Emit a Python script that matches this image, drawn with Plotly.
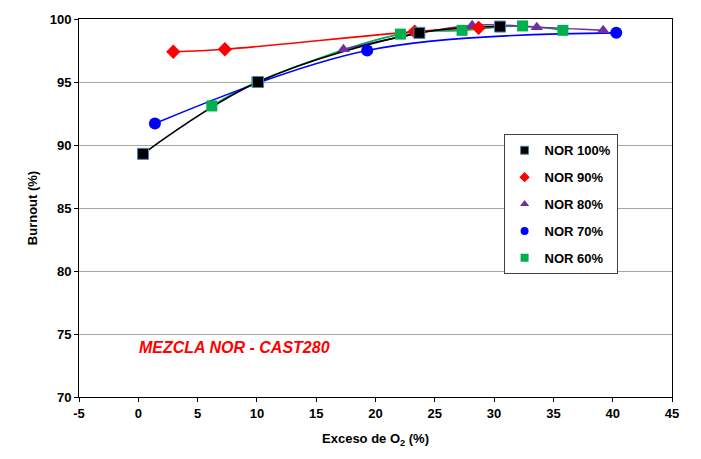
import plotly.graph_objects as go

# Data
nor100_x = [0.4, 10.1, 23.7, 30.5]
nor100_y = [89.3, 95.0, 98.9, 99.4]

nor90_x = [2.95, 7.3, 23.3, 28.7]
nor90_y = [97.4, 97.6, 99.0, 99.3]

nor80_x = [17.3, 28.15, 33.6, 39.2]
nor80_y = [97.6, 99.5, 99.35, 99.1]

nor70_x = [1.4, 19.3, 40.3]
nor70_y = [91.7, 97.5, 98.9]

nor60_x = [6.2, 10.0, 22.1, 27.3, 32.4, 35.8]
nor60_y = [93.1, 95.0, 98.8, 99.1, 99.45, 99.1]

x_tick_vals = [-5, 0, 5, 10, 15, 20, 25, 30, 35, 40, 45]
x_tick_text = ["-5", "0", "5", "10", "15", "20", "25", "30", "35", "40", "45"]

series = [
    # name, x, y, color, symbol, size  (drawing order, bottom to top)
    ("NOR 60%", nor60_x, nor60_y, "#00B050", "square", 11),
    ("NOR 70%", nor70_x, nor70_y, "#0000FF", "circle", 12),
    ("NOR 80%", nor80_x, nor80_y, "#7030A0", "triangle-up", 11),
    ("NOR 90%", nor90_x, nor90_y, "#FF0000", "diamond", 11),
    ("NOR 100%", nor100_x, nor100_y, "#000000", "square", 11),
]

fig = go.Figure()

for name, xs, ys, col, sym, sz in series:
    fig.add_trace(go.Scatter(
        x=xs, y=ys, mode="lines", showlegend=False, hoverinfo="skip",
        line=dict(color=col, width=1.6, shape="spline", smoothing=1.0),
    ))

for name, xs, ys, col, sym, sz in series:
    edge = "#4F81BD" if name == "NOR 100%" else col
    fig.add_trace(go.Scatter(
        x=xs, y=ys, mode="markers", name=name, showlegend=False,
        marker=dict(color=col, symbol=sym, size=sz,
                    line=dict(color=edge, width=1 if name == "NOR 100%" else 0)),
    ))

# legend entries (smaller symbols, as in the reference legend), listed 100% -> 60%
for name, xs, ys, col, sym, sz in reversed(series):
    edge = "#4F81BD" if name == "NOR 100%" else col
    fig.add_trace(go.Scatter(
        x=[None], y=[None], mode="markers", name=name, legendgroup=name,
        marker=dict(color=col, symbol=sym, size=8,
                    line=dict(color=edge, width=1 if name == "NOR 100%" else 0)),
    ))

fig.add_annotation(
    x=0.098, y=0.132, xref="paper", yref="paper", xanchor="left", yanchor="middle",
    text="<b><i>MEZCLA NOR - CAST280</i></b>", showarrow=False,
    font=dict(family="Liberation Sans, Arial, sans-serif", size=16, color="#FF0000"),
)

axis_font = dict(family="Liberation Sans, Arial, sans-serif", size=13, color="#000000", weight="bold")

fig.update_layout(
    width=701, height=459,
    margin=dict(l=79, r=29, t=14, b=62),
    paper_bgcolor="#FFFFFF", plot_bgcolor="#FFFFFF",
    font=dict(family="Liberation Sans, Arial, sans-serif", color="#000000"),
    legend=dict(
        x=0.716, y=0.695, xanchor="left", yanchor="top",
        bgcolor="#FFFFFF", bordercolor="#404040", borderwidth=1,
        traceorder="grouped", tracegroupgap=7,
        font=dict(family="Liberation Sans, Arial, sans-serif", size=13, weight="bold"),
        itemwidth=30,
    ),
    xaxis=dict(
        range=[-5, 45], tickmode="array", tickvals=x_tick_vals, ticktext=x_tick_text,
        showgrid=False, zeroline=False,
        showline=True, linecolor="#000000", linewidth=1, mirror=True,
        ticks="outside", ticklen=4, tickcolor="#000000",
        tickfont=axis_font,
        title=dict(text="Exceso de O<sub>2</sub> (%)", font=axis_font, standoff=14),
    ),
    yaxis=dict(
        range=[70, 100], dtick=5, showgrid=True, gridcolor="#A6A6A6", gridwidth=1,
        zeroline=False, showline=True, linecolor="#000000", linewidth=1, mirror=True,
        ticks="outside", ticklen=4, tickcolor="#000000",
        tickfont=axis_font,
        title=dict(text="Burnout (%)", font=axis_font, standoff=9),
    ),
)

fig.write_html("out.html", config={"displayModeBar": False},
               post_script="document.body.style.margin='0';document.body.style.overflow='hidden';")
